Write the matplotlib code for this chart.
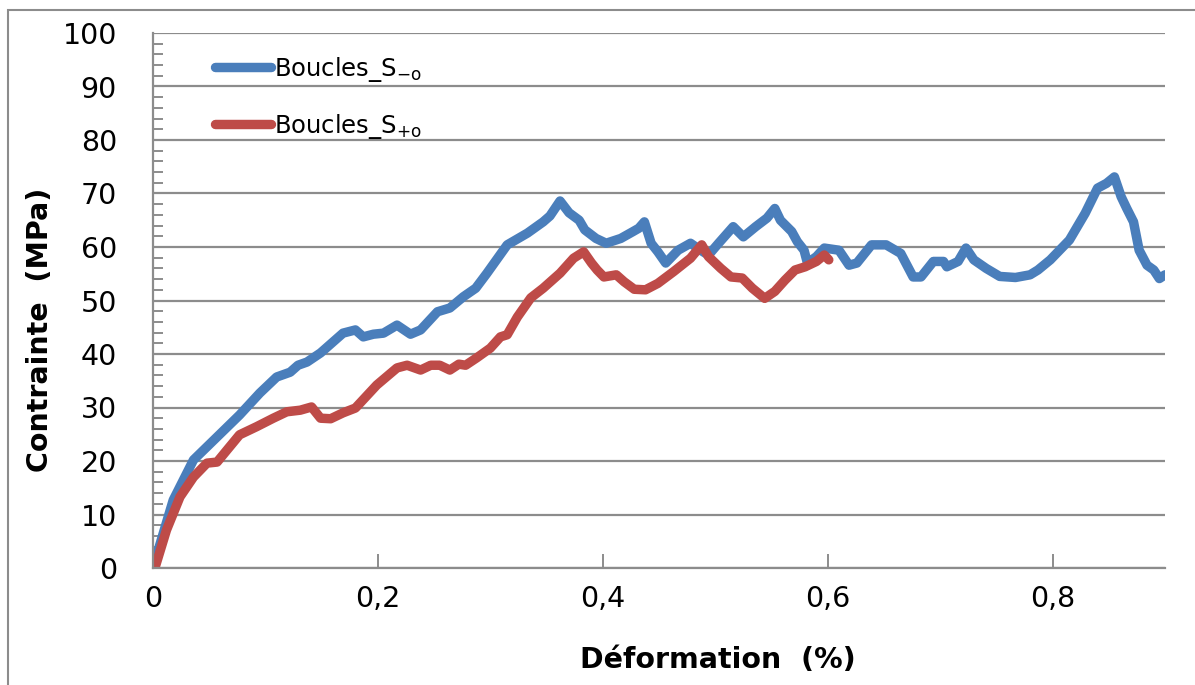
import numpy as np
import matplotlib.pyplot as plt
from matplotlib.patches import Rectangle
from matplotlib.ticker import MultipleLocator, FuncFormatter

# Strain (%) / stress (MPa) curves
strain_minus = [0.0, 0.002, 0.018, 0.036, 0.057, 0.077, 0.095, 0.110, 0.122, 0.129,
                0.137, 0.149, 0.169, 0.180, 0.187, 0.196, 0.205, 0.217, 0.229, 0.238,
                0.253, 0.264, 0.276, 0.287, 0.297, 0.315, 0.333, 0.347, 0.353, 0.362,
                0.370, 0.379, 0.384, 0.394, 0.403, 0.416, 0.427, 0.432, 0.437, 0.443,
                0.449, 0.456, 0.467, 0.478, 0.487, 0.494, 0.503, 0.516, 0.525, 0.536,
                0.546, 0.553, 0.558, 0.568, 0.573, 0.579, 0.582, 0.590, 0.597, 0.610,
                0.619, 0.626, 0.639, 0.652, 0.665, 0.676, 0.683, 0.694, 0.703, 0.706,
                0.716, 0.723, 0.730, 0.741, 0.753, 0.767, 0.780, 0.787, 0.798, 0.815,
                0.829, 0.840, 0.848, 0.855, 0.861, 0.866, 0.872, 0.877, 0.884, 0.890,
                0.895, 0.900]
stress_minus = [0.0, 1.5, 12.7, 20.2, 24.5, 28.6, 32.7, 35.7, 36.6, 37.9,
                38.5, 40.2, 43.9, 44.5, 43.2, 43.7, 43.9, 45.4, 43.7, 44.5,
                47.9, 48.6, 50.7, 52.3, 55.1, 60.4, 62.6, 64.7, 65.8, 68.6,
                66.4, 65.0, 63.2, 61.6, 60.7, 61.6, 62.9, 63.5, 64.7, 60.7,
                59.1, 57.0, 59.4, 60.7, 59.4, 58.5, 60.7, 63.8, 61.9, 63.8,
                65.4, 67.2, 65.0, 62.9, 61.0, 59.4, 57.0, 58.2, 59.8, 59.4,
                56.6, 57.0, 60.4, 60.4, 58.8, 54.4, 54.4, 57.3, 57.3, 56.3,
                57.3, 59.8, 57.6, 56.0, 54.5, 54.3, 54.8, 55.7, 57.6, 61.3,
                66.3, 71.0, 71.9, 73.1, 69.4, 67.2, 64.7, 59.4, 56.6, 55.7,
                54.1, 54.8]

strain_plus = [0.0, 0.002, 0.012, 0.024, 0.036, 0.048, 0.057, 0.066, 0.077, 0.092,
               0.107, 0.119, 0.131, 0.141, 0.149, 0.158, 0.169, 0.180, 0.199, 0.217,
               0.226, 0.238, 0.247, 0.255, 0.264, 0.272, 0.278, 0.288, 0.300, 0.309,
               0.315, 0.324, 0.336, 0.347, 0.362, 0.374, 0.383, 0.390, 0.395, 0.401,
               0.412, 0.419, 0.428, 0.438, 0.449, 0.463, 0.478, 0.488, 0.494, 0.505,
               0.514, 0.524, 0.533, 0.544, 0.553, 0.562, 0.571, 0.580, 0.590, 0.597,
               0.601]
stress_plus = [0.0, 0.2, 7.1, 13.3, 17.0, 19.6, 19.8, 22.1, 24.9, 26.4,
               28.0, 29.2, 29.5, 30.1, 28.0, 27.9, 29.0, 29.9, 34.2, 37.4,
               37.9, 37.0, 37.9, 37.9, 37.0, 38.1, 37.9, 39.3, 41.1, 43.2,
               43.6, 46.9, 50.5, 52.3, 55.1, 57.9, 59.1, 57.0, 55.7, 54.4,
               54.8, 53.5, 52.1, 52.0, 53.2, 55.4, 57.9, 60.4, 58.2, 56.0,
               54.4, 54.2, 52.3, 50.4, 51.7, 53.8, 55.7, 56.3, 57.3, 58.5,
               57.6]

fig = plt.figure(figsize=(11.95, 6.85), dpi=100)
ax = fig.add_axes([153 / 1195, 1 - 568 / 685, 1012 / 1195, 535 / 685])

ax.plot(strain_minus, stress_minus, color='#4A7EBB', lw=6.8,
        solid_capstyle='round', solid_joinstyle='round',
        label=r'Boucles_S$_{\mathregular{-o}}$')
ax.plot(strain_plus, stress_plus, color='#BE4B48', lw=6.8,
        solid_capstyle='round', solid_joinstyle='round',
        label=r'Boucles_S$_{\mathregular{+o}}$')

ax.set_xlim(0, 0.9)
ax.set_ylim(0, 100)
ax.xaxis.set_major_locator(MultipleLocator(0.2))
ax.yaxis.set_major_locator(MultipleLocator(10))
ax.yaxis.set_minor_locator(MultipleLocator(2))
ax.xaxis.set_major_formatter(FuncFormatter(
    lambda v, p: '0' if abs(v) < 1e-9 else f'{v:.1f}'.replace('.', ',')))

ax.grid(axis='y', color='#8c8c8c', lw=1.6)
ax.set_axisbelow(True)
for side in ['top', 'right']:
    ax.spines[side].set_visible(False)
for side in ['left', 'bottom']:
    ax.spines[side].set_color('#8c8c8c')
    ax.spines[side].set_linewidth(1.6)

ax.tick_params(axis='y', which='major', direction='in', length=0,
               labelsize=20.5, pad=26)
ax.tick_params(axis='y', which='minor', direction='in', length=7,
               width=1.4, color='#8c8c8c')
ax.tick_params(axis='x', which='major', direction='in', length=10,
               width=1.4, color='#8c8c8c', labelsize=20.5, pad=12)

ax.set_xlabel('Déformation  (%)', fontsize=20.5, fontweight='bold')
ax.set_ylabel('Contrainte  (MPa)', fontsize=20.5, fontweight='bold')
ax.xaxis.set_label_coords((718 - 153) / 1012, (568 - 660) / 535)
ax.yaxis.set_label_coords((40 - 153) / 1012, (568 - 330) / 535)
ax.xaxis.label.set_va('center')
ax.yaxis.label.set_va('center')

ax.legend(loc='upper left', bbox_to_anchor=(0.04, 1.0), frameon=False,
          fontsize=17.5, handlelength=2.3, handletextpad=0.1, labelspacing=1.15)

# outer frame
fig.patches.append(Rectangle((8 / 1195, -0.05), 1.2, (1 - 10 / 685) + 0.05,
                             transform=fig.transFigure, fill=False,
                             edgecolor='#8c8c8c', lw=1.5))

fig.savefig('out.png', dpi=100)
